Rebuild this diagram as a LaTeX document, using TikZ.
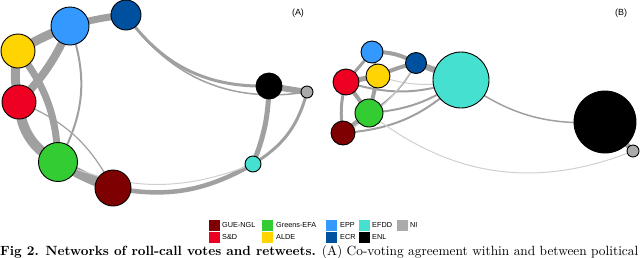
\documentclass[tikz,border=0pt]{standalone}
\usepackage{fontspec}
\newfontfamily\legfont{Liberation Sans}
\usetikzlibrary{backgrounds}
\definecolor{cGUE}{HTML}{7F0000}
\definecolor{cSD}{HTML}{EE0022}
\definecolor{cGreens}{HTML}{33CC33}
\definecolor{cALDE}{HTML}{FFD400}
\definecolor{cEPP}{HTML}{3399FF}
\definecolor{cECR}{HTML}{0050A0}
\definecolor{cEFDD}{HTML}{45E0D0}
\definecolor{cNI}{HTML}{AAAAAA}
\definecolor{edgegray}{HTML}{A0A0A0}
\definecolor{edgelight}{HTML}{CFCFCF}
\begin{document}
\begin{tikzpicture}[x=1bp,y=-1bp,
  party/.style={circle,draw=black,line width=0.9bp,inner sep=0pt,minimum size=#1},
  link/.style={draw=edgegray,line width=#1},
  faint/.style={draw=edgelight,line width=#1},
  legsq/.style={rectangle,inner sep=0pt,minimum width=11bp,minimum height=11.5bp,anchor=north west},
  leglab/.style={font=\legfont\fontsize{7.3}{8}\selectfont,anchor=west,inner sep=0pt},
  panel/.style={font=\legfont\fontsize{9}{10}\selectfont,inner sep=0pt}]
\useasboundingbox (0,0) rectangle (640,257);

% ---------- panel A nodes ----------
\node[party=38bp,fill=cEPP] (aEPP) at (70,26) {};
\node[party=30bp,fill=cECR] (aECR) at (126,15) {};
\node[party=34bp,fill=cALDE] (aALDE) at (18,51) {};
\node[party=34bp,fill=cSD] (aSD) at (19,102) {};
\node[party=39bp,fill=cGreens] (aGreens) at (58,162) {};
\node[party=36bp,fill=cGUE] (aGUE) at (113,188) {};
\node[party=26bp,fill=black] (aENL) at (269,86) {};
\node[party=12bp,fill=cNI] (aNI) at (307,92) {};
\node[party=16bp,fill=cEFDD] (aEFDD) at (253,164) {};
\node[panel] (labA) at (298,13) {(A)};

% ---------- panel B nodes ----------
\node[party=22bp,fill=cEPP] (bEPP) at (372,52) {};
\node[party=21bp,fill=cECR] (bECR) at (416,63) {};
\node[party=24bp,fill=cALDE] (bALDE) at (378,76) {};
\node[party=26bp,fill=cSD] (bSD) at (346,82) {};
\node[party=28bp,fill=cGreens] (bGreens) at (369,113) {};
\node[party=24bp,fill=cGUE] (bGUE) at (343,133) {};
\node[party=56bp,fill=cEFDD] (bEFDD) at (461,80) {};
\node[party=62bp,fill=black] (bENL) at (605,122) {};
\node[party=12bp,fill=cNI] (bNI) at (633,151) {};
\node[panel] (labB) at (621,13) {(B)};

\begin{pgfonlayer}{background}
% panel A edges
\draw[link=9bp] (aALDE.center) to[bend left=5] (aEPP.center);
\draw[link=7bp] (aEPP.center) to[bend left=5] (aECR.center);
\draw[link=8bp] (aEPP.center) to[bend left=10] (aSD.center);
\draw[link=9bp] (aALDE.center) to[bend right=12] (aSD.center);
\draw[link=7bp] (aALDE.center) to[bend left=18] (aGreens.center);
\draw[link=10bp] (aSD.center) to[bend right=30] (aGreens.center);
\draw[link=10bp] (aGreens.center) to[bend right=5] (aGUE.center);
\draw[link=1.2bp] (aSD.center) to[bend left=20] (aGUE.center);
\draw[link=2bp] (aEPP.center) to[bend left=25] (aGreens.center);
\draw[link=3bp] (aECR.center) to[bend right=28] (aENL.center);
\draw[link=1.5bp] (aECR.center) to[bend right=32] (aNI.center);
\draw[link=6bp] (aENL.center) -- (aNI.center);
\draw[link=5bp] (aENL.center) to[bend left=10] (aEFDD.center);
\draw[link=3bp] (aNI.center) to[bend left=22] (aEFDD.center);
\draw[link=4.5bp] (aGUE.center) to[bend right=20] (aEFDD.center);
\draw[faint=1bp] (aGreens.center) to[bend right=22] (aEFDD.center);

% panel B edges
\draw[link=3bp] (bEPP.center) -- (bSD.center);
\draw[link=2.5bp] (bEPP.center) -- (bALDE.center);
\draw[link=4bp] (bEPP.center) to[bend left=15] (bECR.center);
\draw[link=4bp] (bALDE.center) to[bend left=5] (bECR.center);
\draw[link=5bp] (bSD.center) -- (bALDE.center);
\draw[link=4bp] (bSD.center) -- (bGreens.center);
\draw[link=4bp] (bALDE.center) -- (bGreens.center);
\draw[link=5bp] (bGreens.center) -- (bGUE.center);
\draw[link=3bp] (bSD.center) to[bend right=12] (bGUE.center);
\draw[link=6bp] (bECR.center) -- (bEFDD.center);
\draw[link=2bp] (bSD.center) to[bend right=18] (bEFDD.center);
\draw[faint=1bp] (bALDE.center) to[bend right=15] (bEFDD.center);
\draw[link=2bp] (bGreens.center) to[bend right=15] (bEFDD.center);
\draw[link=2bp] (bGUE.center) to[bend right=20] (bEFDD.center);
\draw[link=1.5bp] (bECR.center) to[bend left=15] (bGreens.center);
\draw[faint=1bp] (bECR.center) to[bend left=15] (bGUE.center);
\draw[link=1.5bp] (bEFDD.center) to[bend right=20] (bENL.center);
\draw[link=5bp] (bENL.center) -- (bNI.center);
\draw[faint=1bp] (bGreens.center) to[bend right=30] (bNI.center);
\end{pgfonlayer}

% ---------- legend ----------
\node[legsq,fill=cGUE] (lGUE) at (209,219.5) {};
\node[leglab] (tGUE) at (222,225) {GUE-NGL};
\node[legsq,fill=cGreens] (lGreens) at (262,219.5) {};
\node[leglab] (tGreens) at (276,225) {Greens-EFA};
\node[legsq,fill=cEPP] (lEPP) at (326,219.5) {};
\node[leglab] (tEPP) at (340,225) {EPP};
\node[legsq,fill=cEFDD] (lEFDD) at (359,219.5) {};
\node[leglab] (tEFDD) at (372,225) {EFDD};
\node[legsq,fill=cNI] (lNI) at (397,219.5) {};
\node[leglab] (tNI) at (410,225) {NI};
\node[legsq,fill=cSD] (lSD) at (209,231.5) {};
\node[leglab] (tSD) at (222,237) {S\&D};
\node[legsq,fill=cALDE] (lALDE) at (262,231.5) {};
\node[leglab] (tALDE) at (276,237) {ALDE};
\node[legsq,fill=cECR] (lECR) at (326,231.5) {};
\node[leglab] (tECR) at (340,237) {ECR};
\node[legsq,fill=black] (lENL) at (359,231.5) {};
\node[leglab] (tENL) at (372,237) {ENL};

% ---------- caption (cut at the bottom, as in the reference) ----------
\node[anchor=base west,inner sep=0pt] (cap) at (0,255.5)
  {\resizebox{638bp}{!}{\textbf{Fig 2. Networks of roll-call votes and retweets.} (A) Co-voting agreement within and between political}};
\end{tikzpicture}
\end{document}
